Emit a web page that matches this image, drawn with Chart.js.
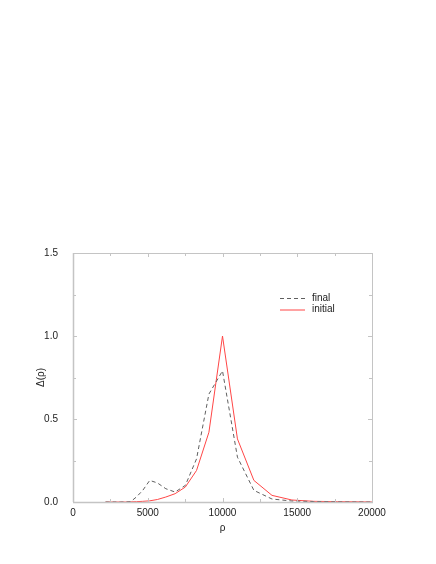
<!DOCTYPE html>
<html>
<head>
<meta charset="utf-8">
<script src="https://cdn.jsdelivr.net/npm/chart.js@4/dist/chart.umd.min.js"></script>
<style>
  html, body { margin: 0; padding: 0; background: #fff; }
  #wrap { width: 436px; height: 564px; }
</style>
</head>
<body>
<div id="wrap"><canvas id="myChart" width="436" height="564"></canvas></div>
<script>
// rho sample points
var rho = [2176, 2394, 2633, 2897, 3186, 3505, 3855, 4241, 4665, 5132, 5645, 6209,
           6830, 7513, 8264, 9091, 10000, 11000, 12100, 13310, 14641, 16105, 17716, 19487, 20000];

var finalVals = [0, 0, 0, 0, 0, 0, 0.002, 0.03, 0.07, 0.13, 0.115, 0.08,
                 0.06, 0.1, 0.26, 0.65, 0.79, 0.27, 0.07, 0.018, 0.006, 0.003, 0.001, 0, 0];

var initialVals = [0, 0, 0, 0, 0, 0, 0.001, 0.002, 0.004, 0.007, 0.015, 0.03,
                   0.05, 0.09, 0.19, 0.42, 1.0, 0.38, 0.13, 0.04, 0.012, 0.004, 0.002, 0.001, 0];

var xLabelTicks = [0, 5000, 10000, 15000, 20000];
var yLabelTicks = [0, 0.5, 1.0, 1.5];

function pts(vals) {
    return rho.map(function (r, i) { return { x: r, y: vals[i] }; });
}

var FONT = '"Liberation Sans", Arial, Helvetica, sans-serif';
var frameColor = '#c4c4c4';

// box round the plot, inward ticks and the inside legend
var frame = {
    id: 'frame',
    afterDraw: function (chart) {
        var ctx = chart.ctx;
        var a = chart.chartArea;
        var x = chart.scales.x, y = chart.scales.y;
        ctx.save();
        ctx.strokeStyle = frameColor;
        ctx.lineWidth = 1;
        ctx.strokeRect(a.left + 0.5, a.top + 0.5, a.right - a.left, a.bottom - a.top);
        ctx.lineWidth = 1.5;
        ctx.beginPath();
        ctx.moveTo(a.left, a.bottom + 0.5); ctx.lineTo(a.right + 1, a.bottom + 0.5);
        ctx.moveTo(a.left + 0.5, a.top); ctx.lineTo(a.left + 0.5, a.bottom);
        ctx.stroke();
        ctx.lineWidth = 1;
        ctx.beginPath();
        x.ticks.forEach(function (t) {
            var px = Math.round(x.getPixelForValue(t.value)) + 0.5;
            var len = xLabelTicks.indexOf(t.value) >= 0 ? 4 : 3;
            ctx.moveTo(px, a.bottom); ctx.lineTo(px, a.bottom - len);
            ctx.moveTo(px, a.top); ctx.lineTo(px, a.top + len);
        });
        y.ticks.forEach(function (t) {
            var py = Math.round(y.getPixelForValue(t.value)) + 0.5;
            var len = yLabelTicks.indexOf(t.value) >= 0 ? 4 : 3;
            ctx.moveTo(a.left, py); ctx.lineTo(a.left + len, py);
            ctx.moveTo(a.right, py); ctx.lineTo(a.right - len, py);
        });
        ctx.stroke();

        // legend
        var lx = 280, ly = 298;
        ctx.font = '10px ' + FONT;
        ctx.textBaseline = 'middle';
        chart.data.datasets.forEach(function (ds, i) {
            var yy = ly + i * 11.5;
            ctx.strokeStyle = ds.borderColor;
            ctx.lineWidth = ds.borderWidth;
            ctx.setLineDash(ds.borderDash || []);
            ctx.beginPath();
            ctx.moveTo(lx, yy + 0.5); ctx.lineTo(lx + 25, yy + 0.5);
            ctx.stroke();
            ctx.setLineDash([]);
            ctx.fillStyle = '#222';
            ctx.fillText(ds.label, lx + 32, yy);
        });
        ctx.restore();
    }
};

var ctx = document.getElementById('myChart').getContext('2d');
var chart = new Chart(ctx, {
    type: 'line',
    data: {
        datasets: [{
            label: 'final',
            data: pts(finalVals),
            borderColor: 'rgb(95, 95, 95)',
            borderWidth: 1,
            borderDash: [4, 3],
            pointRadius: 0,
            fill: false,
            tension: 0
        },
        {
            label: 'initial',
            data: pts(initialVals),
            borderColor: 'rgb(255, 70, 70)',
            borderWidth: 1,
            pointRadius: 0,
            fill: false,
            tension: 0
        }]
    },
    options: {
        responsive: false,
        animation: false,
        events: [],
        layout: { padding: { top: 253, right: 64, bottom: 26, left: 30 } },
        plugins: {
            legend: { display: false },
            tooltip: { enabled: false }
        },
        scales: {
            x: {
                type: 'linear',
                min: 0,
                max: 20000,
                afterFit: function (s) { s.height = 36; },
                grid: { display: false, drawTicks: false },
                border: { display: false },
                ticks: {
                    stepSize: 2500,
                    padding: 5,
                    maxRotation: 0,
                    autoSkip: false,
                    color: '#222',
                    font: { family: FONT, size: 10 },
                    callback: function (v) { return xLabelTicks.indexOf(v) >= 0 ? String(v) : ''; }
                },
                title: {
                    display: true,
                    text: 'ρ',
                    color: '#222',
                    font: { family: FONT, size: 10 },
                    padding: { top: 0, bottom: 4 }
                }
            },
            y: {
                min: 0,
                max: 1.5,
                afterFit: function (s) { s.width = 43; },
                grid: { display: false, drawTicks: false },
                border: { display: false },
                ticks: {
                    stepSize: 0.25,
                    padding: 15,
                    autoSkip: false,
                    color: '#222',
                    font: { family: FONT, size: 10 },
                    callback: function (v) { return yLabelTicks.indexOf(v) >= 0 ? v.toFixed(1) : ''; }
                },
                title: {
                    display: true,
                    text: 'Δ(ρ)',
                    color: '#222',
                    font: { family: FONT, size: 10 },
                    padding: { top: 5, bottom: 0 }
                }
            }
        }
    },
    plugins: [frame]
});
</script>
</body>
</html>
